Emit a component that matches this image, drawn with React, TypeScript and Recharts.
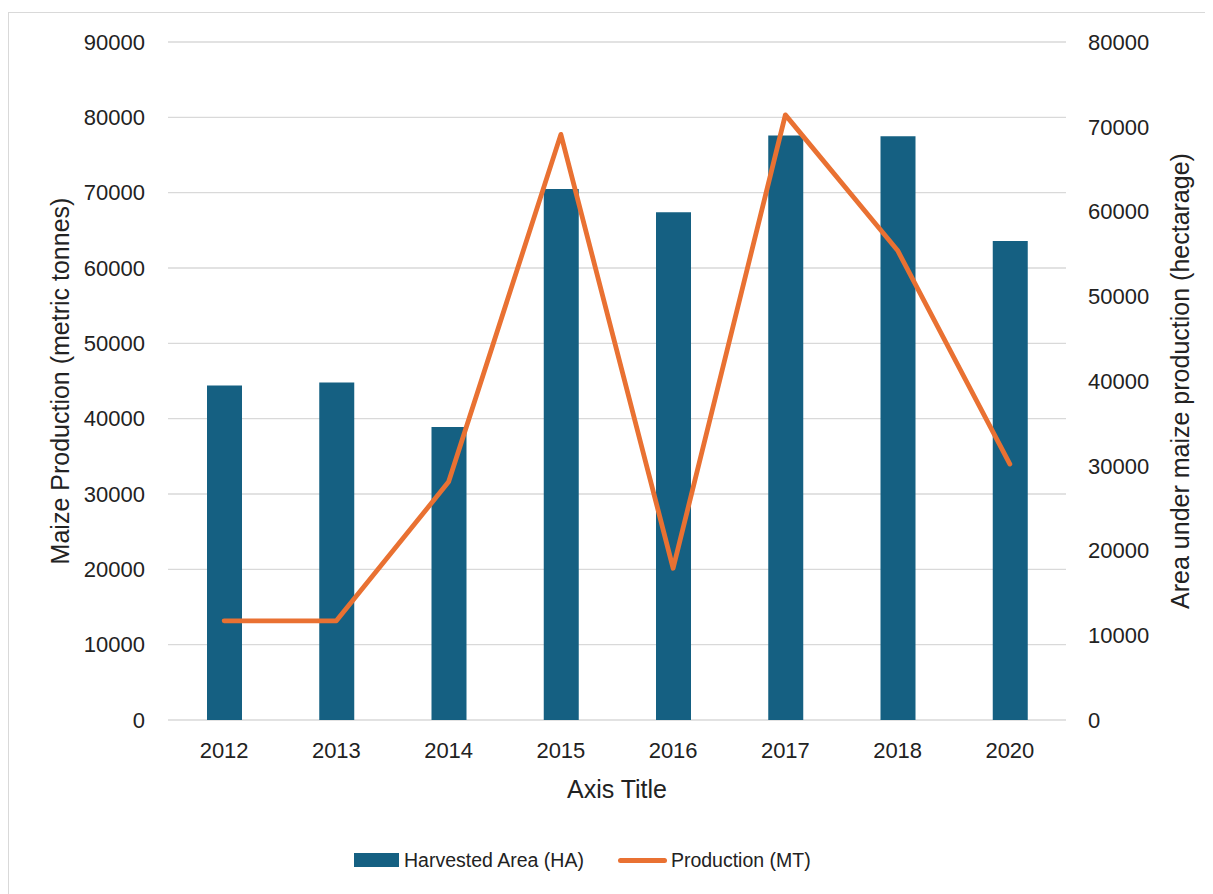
import React from 'react';
import {
  ComposedChart,
  Bar,
  Line,
  XAxis,
  YAxis,
  CartesianGrid,
  Legend,
} from 'recharts';

const categories = ['2012', '2013', '2014', '2015', '2016', '2017', '2018', '2020'];
const harvestedArea = [44400, 44800, 38900, 70500, 67400, 77600, 77500, 63600];
const production = [11700, 11700, 28100, 69100, 17900, 71400, 55400, 30200];
const leftTicks = [0, 10000, 20000, 30000, 40000, 50000, 60000, 70000, 80000, 90000];
const rightTicks = [0, 10000, 20000, 30000, 40000, 50000, 60000, 70000, 80000];

const seriesNames = { bar: 'Harvested Area (HA)', line: 'Production (MT)' };
const axisTitles = {
  x: 'Axis Title',
  left: 'Maize Production (metric tonnes)',
  right: 'Area under maize production (hectarage)',
};

const data = categories.map((c, i) => ({
  year: c,
  area: harvestedArea[i],
  prod: production[i],
}));

const FONT = '"Liberation Sans", Arial, sans-serif';
const TEXT = '#222222';
const BAR = '#156082';
const LINE = '#E97132';
const GRID = '#D9D9D9';

const tickStyle = { fontSize: 22, fill: TEXT, fontFamily: FONT };

const LegendContent = () => (
  <div
    style={{
      display: 'flex',
      alignItems: 'center',
      height: 30,
      paddingLeft: 345,
      fontFamily: FONT,
      fontSize: 19.5,
      color: TEXT,
    }}
  >
    <span style={{ display: 'inline-block', width: 45, height: 14, background: BAR, marginRight: 5 }} />
    <span>{seriesNames.bar}</span>
    <span
      style={{
        display: 'inline-block',
        width: 49,
        height: 5,
        borderRadius: 3,
        background: LINE,
        marginLeft: 34,
        marginRight: 4,
      }}
    />
    <span>{seriesNames.line}</span>
  </div>
);

export default function App() {
  return (
    <div style={{ paddingTop: 4 }}>
      <style>{'html,body{overflow:hidden}'}</style>
      <div style={{ border: '1px solid #D9D9D9', width: 1204, height: 900, background: '#fff' }}>
        <ComposedChart
          width={1204}
          height={862}
          data={data}
          margin={{ top: 29, right: 0, bottom: 0, left: 0 }}
        >
          <CartesianGrid yAxisId="left" vertical={false} stroke={GRID} strokeWidth={1.3} />
          <XAxis
            dataKey="year"
            height={125}
            axisLine={false}
            tickLine={false}
            tickSize={0}
            tickMargin={22}
            tick={tickStyle}
            interval={0}
            label={{
              content: ({ viewBox }: any) => (
                <text
                  x={viewBox.x + viewBox.width / 2}
                  y={viewBox.y + 69}
                  textAnchor="middle"
                  dominantBaseline="central"
                  fontSize={25}
                  fontFamily={FONT}
                  fill={TEXT}
                >
                  {axisTitles.x}
                </text>
              ),
            }}
          />
          <YAxis
            yAxisId="left"
            width={159}
            domain={[0, 90000]}
            ticks={leftTicks}
            axisLine={false}
            tickLine={false}
            tickSize={0}
            tickMargin={23}
            tick={tickStyle}
            interval={0}
            label={{
              content: ({ viewBox }: any) => {
                const cx = viewBox.x + 51;
                const cy = viewBox.y + viewBox.height / 2;
                return (
                  <text
                    x={cx}
                    y={cy}
                    transform={`rotate(-90, ${cx}, ${cy})`}
                    textAnchor="middle"
                    dominantBaseline="central"
                    fontSize={25}
                    fontFamily={FONT}
                    fill={TEXT}
                  >
                    {axisTitles.left}
                  </text>
                );
              },
            }}
          />
          <YAxis
            yAxisId="right"
            orientation="right"
            width={147}
            domain={[0, 80000]}
            ticks={rightTicks}
            axisLine={false}
            tickLine={false}
            tickSize={0}
            tickMargin={22}
            tick={{ ...tickStyle, textAnchor: 'start' }}
            interval={0}
            label={{
              content: ({ viewBox }: any) => {
                const cx = viewBox.x + 114;
                const cy = viewBox.y + viewBox.height / 2;
                return (
                  <text
                    x={cx}
                    y={cy}
                    transform={`rotate(-90, ${cx}, ${cy})`}
                    textAnchor="middle"
                    dominantBaseline="central"
                    fontSize={25}
                    fontFamily={FONT}
                    fill={TEXT}
                  >
                    {axisTitles.right}
                  </text>
                );
              },
            }}
          />
          <Legend verticalAlign="bottom" align="left" content={<LegendContent />} />
          <Bar
            yAxisId="left"
            dataKey="area"
            name={seriesNames.bar}
            fill={BAR}
            barSize={35}
            isAnimationActive={false}
          />
          <Line
            yAxisId="right"
            dataKey="prod"
            name={seriesNames.line}
            type="linear"
            stroke={LINE}
            strokeWidth={4.8}
            strokeLinecap="round"
            strokeLinejoin="round"
            dot={false}
            activeDot={false}
            isAnimationActive={false}
          />
        </ComposedChart>
      </div>
    </div>
  );
}
